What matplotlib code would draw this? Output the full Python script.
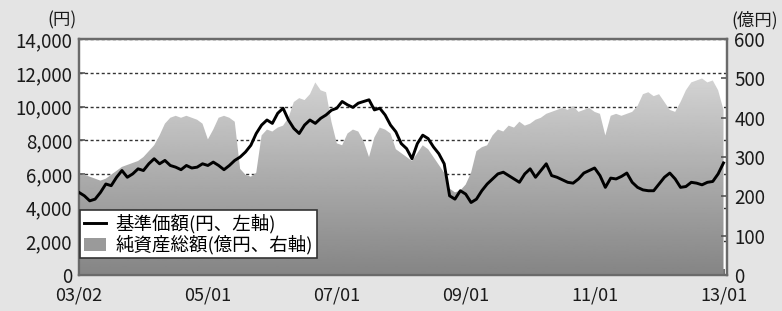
import numpy as np
import matplotlib
matplotlib.use("Agg")
import matplotlib.pyplot as plt
from matplotlib.patches import Patch
from matplotlib.lines import Line2D

plt.rcParams['font.family'] = ['Noto Sans CJK JP', 'DejaVu Sans']

# months since 2003/01 (0 = start of chart, 120 = 2013/01)
months = np.arange(121)

# 基準価額 (円, left axis)
nav = [4900, 4700, 4400, 4500, 4900, 5400, 5300, 5800, 6200, 5800,
       6000, 6300, 6200, 6600, 6900, 6600, 6800, 6500, 6400, 6250,
       6500, 6350, 6400, 6600, 6500, 6700, 6500, 6250, 6500, 6800,
       7000, 7300, 7700, 8400, 8900, 9200, 9000, 9600, 9900, 9200,
       8700, 8400, 8900, 9200, 9000, 9300, 9500, 9780, 9900, 10300,
       10100, 9950, 10200, 10300, 10400, 9800, 9900, 9500, 8900, 8500,
       7800, 7500, 6900, 7800, 8300, 8100, 7600, 7200, 6600, 4700,
       4500, 5000, 4800, 4300, 4500, 5000, 5400, 5700, 6000, 6100,
       5900, 5700, 5500, 6000, 6300, 5800, 6200, 6600, 5900, 5800,
       5650, 5500, 5450, 5700, 6050, 6200, 6350, 5900, 5200, 5750,
       5700, 5850, 6050, 5500, 5200, 5050, 5000, 5000, 5400, 5800,
       6050, 5700, 5200, 5250, 5500, 5450, 5350, 5500, 5550, 6000,
       6650]

# 純資産総額 (億円, right axis)
assets = [255, 255, 250, 245, 240, 245, 255, 265, 275, 280,
          285, 290, 300, 315, 330, 355, 385, 400, 405, 400,
          405, 400, 395, 385, 345, 370, 400, 405, 400, 390,
          270, 255, 250, 260, 355, 370, 365, 375, 380, 400,
          440, 450, 445, 460, 490, 470, 465, 390, 335, 330,
          360, 370, 365, 340, 300, 350, 375, 370, 360, 320,
          310, 300, 290, 310, 330, 320, 300, 280, 260, 220,
          210, 215, 230, 260, 315, 325, 330, 355, 370, 365,
          380, 375, 390, 380, 385, 395, 400, 410, 415, 420,
          425, 420, 430, 415, 420, 425, 415, 410, 355, 405,
          410, 405, 410, 415, 430, 460, 465, 455, 460, 440,
          420, 415, 440, 470, 490, 495, 500, 490, 495, 470,
          420]

tick_pos = [0, 24, 48, 72, 96, 120]
tick_labels = ['03/02', '05/01', '07/01', '09/01', '11/01', '13/01']

fig = plt.figure(figsize=(7.82, 3.11), dpi=100)
fig.patch.set_facecolor('#e4e4e4')
ax = fig.add_axes([0.101, 0.116, 0.829, 0.758])
ax2 = ax.twinx()

ax.set_xlim(0, 120.7)
ax.set_ylim(0, 14000)
ax.set_facecolor('white')

# grid on the bottom axes so that the area covers it
ax.set_yticks(np.arange(0, 14001, 2000))
ax.yaxis.grid(True, linestyle=(0, (2.2, 1.8)), color='#333333', linewidth=1.0)
ax.set_axisbelow(True)

# gradient-filled net assets area
poly = ax2.fill_between(months, assets, 0, facecolor='none', edgecolor='none')
grad = np.linspace(0.52, 0.84, 256).reshape(-1, 1)
img = ax2.imshow(grad, cmap='gray', vmin=0, vmax=1, aspect='auto',
                 extent=[0, 120.7, 520, 0], origin='upper', zorder=1)
img.set_clip_path(poly.get_paths()[0], transform=ax2.transData)
ax2.set_ylim(0, 600)
ax2.set_xlim(0, 120.7)

# NAV line on top, drawn with the left axis scale
ax2.plot(months, nav, color='black', linewidth=2.1, transform=ax.transData,
         zorder=3)

ax.set_xticks(tick_pos)
ax.set_xticklabels(tick_labels)
ax.set_yticklabels([f'{v:,}' for v in range(0, 14001, 2000)])
ax2.set_yticks(np.arange(0, 601, 100))

for a in (ax, ax2):
    a.tick_params(direction='in', length=4, width=1.2, color='#555555',
                  labelsize=13.5, labelcolor='#1a1a1a', pad=5)
    for s in a.spines.values():
        s.set_color('#6a6a6a')
        s.set_linewidth(1.6)
ax.tick_params(axis='x', pad=8.5, labelsize=13)

fig.text(0.079, 0.935, '(円)', ha='center', va='center', fontsize=12.5,
         color='#1a1a1a')
fig.text(0.965, 0.935, '(億円)', ha='center', va='center', fontsize=12.5,
         color='#1a1a1a')

handles = [Line2D([], [], color='black', linewidth=2.1),
           Patch(facecolor='#9a9a9a', edgecolor='none')]
labels = ['基準価額(円、左軸)', '純資産総額(億円、右軸)']
leg = ax2.legend(handles, labels, loc='lower left',
                 bbox_to_anchor=(0.002, 0.07), fontsize=13.3,
                 frameon=True, fancybox=False, borderpad=0.2,
                 handlelength=1.2, handletextpad=0.5, labelspacing=0.1,
                 borderaxespad=0.0)
leg.get_frame().set_edgecolor('#333333')
leg.get_frame().set_linewidth(1.2)
leg.get_frame().set_facecolor('white')
leg.get_frame().set_alpha(1)

fig.savefig('out.png', dpi=100, facecolor=fig.get_facecolor())
